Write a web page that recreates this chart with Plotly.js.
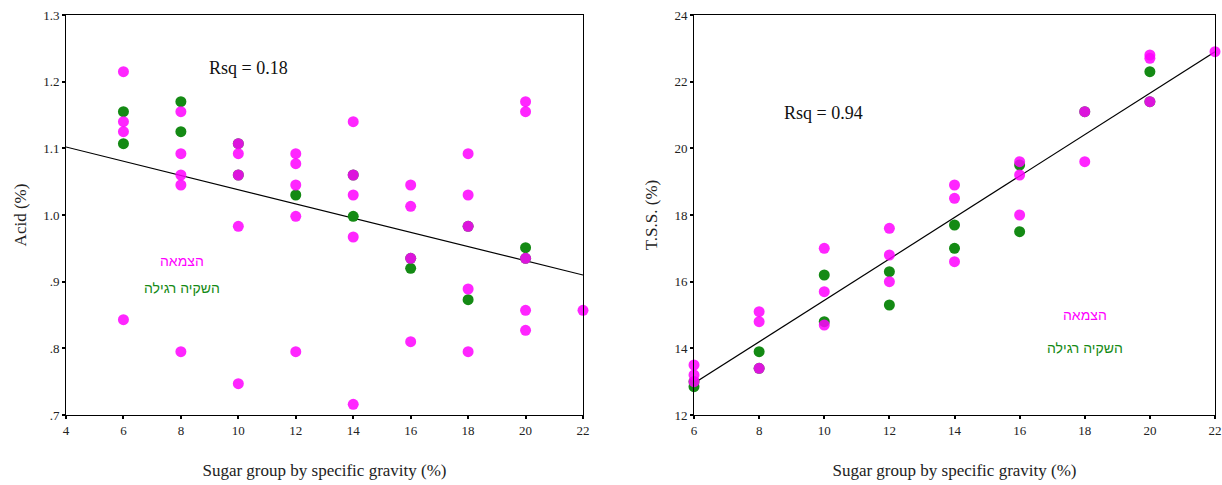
<!DOCTYPE html>
<html>
<head>
<meta charset="utf-8">
<script src="https://cdn.plot.ly/plotly-3.0.1.min.js"></script>
<style>html,body{margin:0;padding:0;background:#fff;}#chart{width:1222px;height:485px;}</style>
</head>
<body>
<div id="chart"></div>
<script>
// ---- Left panel: Acid (%) vs sugar group ----
const acidGreenX = [6, 6, 8, 8, 10, 10, 12, 14, 14, 16, 16, 18, 18, 20, 20];
const acidGreenY = [1.155, 1.107, 1.17, 1.125, 1.107, 1.06, 1.03, 1.06, 0.998, 0.935, 0.92, 0.983, 0.873, 0.951, 0.935];
const acidMagX = [6, 6, 6, 6, 8, 8, 8, 8, 8, 10, 10, 10, 10, 10, 12, 12, 12, 12, 12, 14, 14, 14, 14, 14, 16, 16, 16, 16, 18, 18, 18, 18, 18, 20, 20, 20, 20, 20, 22];
const acidMagY = [1.215, 1.14, 1.125, 0.843, 1.155, 1.092, 1.06, 1.045, 0.795, 1.107, 1.092, 1.06, 0.983, 0.747, 1.092, 1.077, 1.045, 0.998, 0.795, 1.14, 1.06, 1.03, 0.967, 0.716, 1.045, 1.013, 0.935, 0.81, 1.092, 1.03, 0.983, 0.889, 0.795, 1.17, 1.155, 0.935, 0.857, 0.827, 0.857];
const acidFitX = [4, 22];
const acidFitY = [1.102, 0.910];
const acidRsq = "Rsq = 0.18";
const acidTickVals = [0.7, 0.8, 0.9, 1.0, 1.1, 1.2, 1.3];
const acidTickText = [".7", ".8", ".9", "1.0", "1.1", "1.2", "1.3"];
const acidXTicks = [4, 6, 8, 10, 12, 14, 16, 18, 20, 22];

// ---- Right panel: T.S.S. (%) vs sugar group ----
const tssGreenX = [6, 6, 8, 8, 10, 10, 12, 12, 14, 14, 16, 16, 18, 20, 20];
const tssGreenY = [13.0, 12.85, 13.9, 13.4, 16.2, 14.8, 16.3, 15.3, 17.7, 17.0, 19.5, 17.5, 21.1, 22.3, 21.4];
const tssMagX = [6, 6, 6, 8, 8, 8, 10, 10, 10, 12, 12, 12, 14, 14, 14, 16, 16, 16, 18, 18, 20, 20, 20, 22];
const tssMagY = [13.5, 13.2, 13.0, 15.1, 14.8, 13.4, 17.0, 15.7, 14.7, 17.6, 16.8, 16.0, 18.9, 18.5, 16.6, 19.6, 19.2, 18.0, 21.1, 19.6, 22.8, 22.7, 21.4, 22.9];
const tssFitX = [6, 22];
const tssFitY = [12.95, 22.9];
const tssRsq = "Rsq = 0.94";
const tssTickVals = [12, 14, 16, 18, 20, 22, 24];
const tssXTicks = [6, 8, 10, 12, 14, 16, 18, 20, 22];

const seriesNames = ["השקיה רגילה", "הצמאה"];
const xTitle = "Sugar group by specific gravity (%)";
const yTitleLeft = "Acid (%)";
const yTitleRight = "T.S.S. (%)";

const GREEN = "#148a14";
const MAG = "#ff00ff";
const serif = "Liberation Serif, Times New Roman, serif";
const sans = "Liberation Sans, Arial, sans-serif";

function pts(x, y, color, xa, ya, name, op) {
  return {type: "scatter", mode: "markers", x: x, y: y, xaxis: xa, yaxis: ya, name: name,
    cliponaxis: false, showlegend: false, hoverinfo: "x+y",
    marker: {color: color, size: 11, opacity: op, line: {width: 0}}};
}
function fit(x, y, xa, ya) {
  return {type: "scatter", mode: "lines", x: x, y: y, xaxis: xa, yaxis: ya, showlegend: false,
    line: {color: "#000", width: 1.2}, hoverinfo: "skip"};
}

const data = [
  fit(acidFitX, acidFitY, "x", "y"),
  pts(acidGreenX, acidGreenY, GREEN, "x", "y", seriesNames[0], 1),
  pts(acidMagX, acidMagY, MAG, "x", "y", seriesNames[1], 0.85),
  fit(tssFitX, tssFitY, "x2", "y2"),
  pts(tssGreenX, tssGreenY, GREEN, "x2", "y2", seriesNames[0], 1),
  pts(tssMagX, tssMagY, MAG, "x2", "y2", seriesNames[1], 0.85)
];

const axBase = {showline: true, linecolor: "#000", linewidth: 1, mirror: true, showgrid: false, zeroline: false,
  ticks: "outside", ticklen: 3, tickwidth: 2, tickcolor: "#000",
  tickfont: {family: serif, size: 13, color: "#222"}, automargin: false};

const layout = {
  width: 1222, height: 485,
  margin: {l: 0, r: 0, t: 15, b: 70},
  paper_bgcolor: "#fff", plot_bgcolor: "#fff",
  showlegend: false,
  xaxis: Object.assign({}, axBase, {domain: [66/1222, 583/1222], range: [4, 22], tickvals: acidXTicks,
    title: {text: xTitle, font: {family: serif, size: 17, color: "#222"}, standoff: 27}}),
  yaxis: Object.assign({}, axBase, {domain: [0, 1], range: [0.7, 1.3], tickvals: acidTickVals, ticktext: acidTickText,
    title: {text: yTitleLeft, font: {family: serif, size: 17, color: "#222"}, standoff: 12}}),
  xaxis2: Object.assign({}, axBase, {domain: [694/1222, 1215/1222], range: [6, 22], tickvals: tssXTicks, anchor: "y2",
    title: {text: xTitle, font: {family: serif, size: 17, color: "#222"}, standoff: 27}}),
  yaxis2: Object.assign({}, axBase, {domain: [0, 1], range: [12, 24], tickvals: tssTickVals, anchor: "x2",
    title: {text: yTitleRight, font: {family: serif, size: 17, color: "#222"}, standoff: 12}}),
  annotations: [
    {xref: "x", yref: "y", x: 10.34, y: 1.22, text: acidRsq, showarrow: false, font: {family: serif, size: 18, color: "#111"}},
    {xref: "x", yref: "y", x: 8.04, y: 0.931, text: seriesNames[1], showarrow: false, font: {family: sans, size: 14, color: MAG}},
    {xref: "x", yref: "y", x: 8.04, y: 0.89, text: seriesNames[0], showarrow: false, font: {family: sans, size: 14, color: GREEN}},
    {xref: "x2", yref: "y2", x: 9.99, y: 21.06, text: tssRsq, showarrow: false, font: {family: serif, size: 18, color: "#111"}},
    {xref: "x2", yref: "y2", x: 18.0, y: 15.0, text: seriesNames[1], showarrow: false, font: {family: sans, size: 14, color: MAG}},
    {xref: "x2", yref: "y2", x: 18.0, y: 14.0, text: seriesNames[0], showarrow: false, font: {family: sans, size: 14, color: GREEN}}
  ]
};

Plotly.newPlot("chart", data, layout, {displayModeBar: false, staticPlot: true});
</script>
</body>
</html>
